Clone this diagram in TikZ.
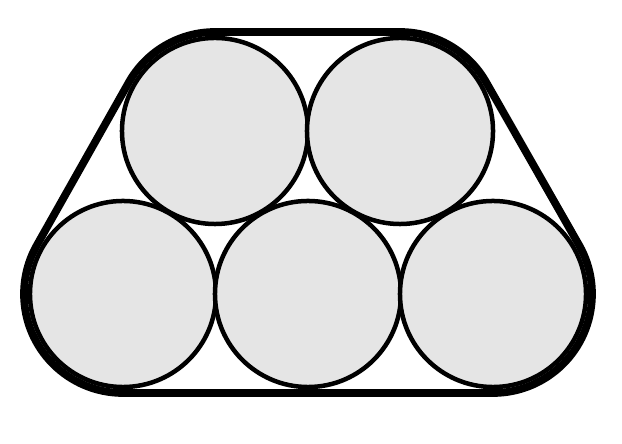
\documentclass[tikz,border=0pt]{standalone}
\usepackage{tikz}
\usetikzlibrary{positioning}
\tikzset{wire/.style={circle, draw=black, line width=3.2pt, fill=gray!20,
		inner sep=0pt, minimum size=4.65cm},
	sheath/.style={draw=black, line width=5.5pt, line join=round}}

\begin{document}
\begin{tikzpicture}[x=0.025cm, y=0.025cm]
	\useasboundingbox (0,0) rectangle (622,444);
	% conductors
	\node[wire] (t1) at (215,313) {};
	\node[wire] (t2) at (400,313) {};
	\node[wire] (b1) at (123,150) {};
	\node[wire] (b2) at (308,150) {};
	\node[wire] (b3) at (493,150) {};
	% outer sheath
	\draw[sheath] ([shift={(90:99)}]t1.center) -- ([shift={(90:99)}]t2.center)
		arc[start angle=90, end angle=29.7, radius=99]
		-- ([shift={(29.7:99)}]b3.center)
		arc[start angle=29.7, end angle=-90, radius=99]
		-- ([shift={(-90:99)}]b1.center)
		arc[start angle=270, end angle=150.56, radius=99]
		-- ([shift={(150.56:99)}]t1.center)
		arc[start angle=150.56, end angle=90, radius=99] -- cycle;
\end{tikzpicture}
\end{document}
